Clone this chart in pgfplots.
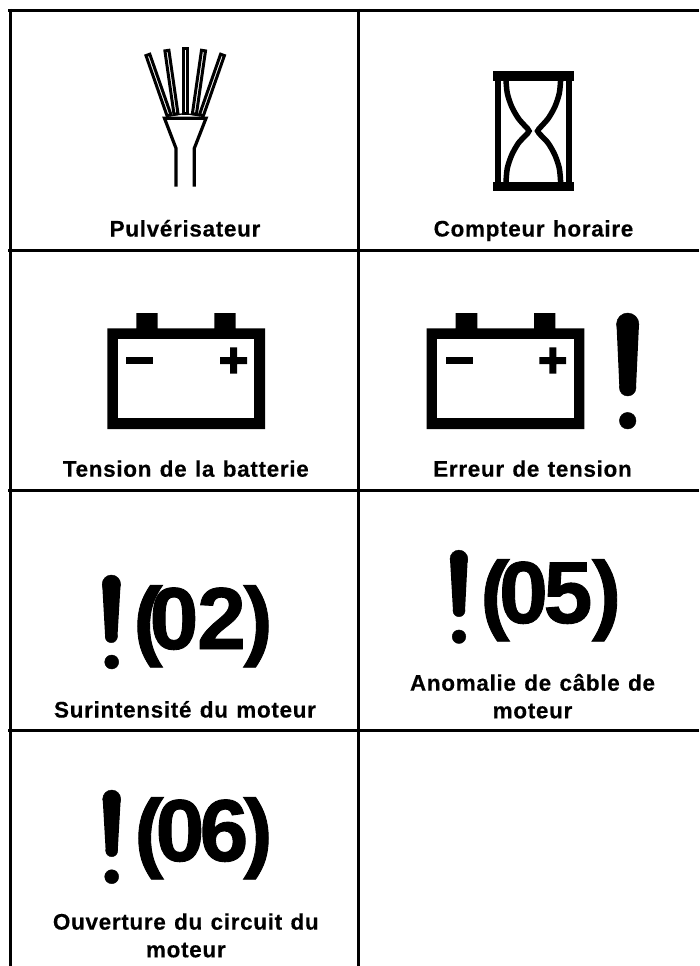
\documentclass[border=0pt]{standalone}
\usepackage{pgfplots}
\pgfplotsset{compat=1.18}
\usepackage{fontspec}
\setmainfont[LetterSpace=3,WordSpace=1.2,BoldFeatures={FakeBold=0.35}]{Liberation Sans}
\newfontfamily\bigf[UprightFont={* Bold},FakeBold=1.0]{Liberation Sans}
\newcommand{\lab}[3]{\node[anchor=base,inner sep=0pt,font=\fontsize{22.5}{24}\selectfont\bfseries] at (axis cs:#1,#2) {#3};}
\newcommand{\gl}[3]{\node[anchor=base,inner sep=0pt,font=\bigf\fontsize{88}{90}\selectfont] at (axis cs:#1,#2) {#3};}
\begin{document}
\begin{tikzpicture}
\begin{axis}[scale only axis,width=699pt,height=966pt,xmin=0,xmax=699,ymin=0,ymax=966,y dir=reverse,hide axis,clip=false,no markers]
\addplot[draw=none] coordinates {(0,0)(699,966)};
\path[use as bounding box] (axis cs:0,0) rectangle (axis cs:699,966);
% grid
\addplot[black,line width=3pt] coordinates {(8,10.5)(699,10.5)};
\addplot[black,line width=3pt] coordinates {(8,250.5)(699,250.5)};
\addplot[black,line width=3pt] coordinates {(8,490.5)(699,490.5)};
\addplot[black,line width=3pt] coordinates {(8,730.5)(699,730.5)};
\addplot[black,line width=3pt] coordinates {(10.5,9)(10.5,966)};
\addplot[black,line width=3pt] coordinates {(358.5,9)(358.5,966)};
% wires
\addplot[black,line width=3pt,line join=miter] coordinates {(146,55.6)(149.8,54.2)(170.9,114.6)(167.1,116)} --cycle;
\addplot[black,line width=3pt,line join=miter] coordinates {(164.9,50.9)(168.9,50.3)(178,113.7)(174,114.3)} --cycle;
\addplot[black,line width=3pt,line join=miter] coordinates {(183.2,49)(187.2,49)(187.2,113)(183.2,113)} --cycle;
\addplot[black,line width=3pt,line join=miter] coordinates {(205.5,50.9)(201.5,50.3)(192.4,113.7)(196.4,114.3)} --cycle;
\addplot[black,line width=3pt,line join=miter] coordinates {(224.4,55.6)(220.6,54.2)(199.5,114.6)(203.3,116)} --cycle;
\addplot[black,line width=1.3pt,smooth] coordinates {(170,116)(185,113.8)(200,116)};
\addplot[black,line width=3.2pt,line join=miter] coordinates {(176,186.7)(176,148.3)(164.5,118.3)(206,118.3)(194.3,148.3)(194.3,186.7)};
% hourglass
\addplot[black,fill=black,line width=0pt] coordinates {(493.3,72)(573.3,72)(573.3,80)(493.3,80)} --cycle;
\addplot[black,fill=black,line width=0pt] coordinates {(493.3,182)(573.3,182)(573.3,190)(493.3,190)} --cycle;
\addplot[black,fill=black,line width=0pt] coordinates {(495.7,78)(500.5,78)(500.5,184)(495.7,184)} --cycle;
\addplot[black,fill=black,line width=0pt] coordinates {(566.2,78)(571,78)(571,184)(566.2,184)} --cycle;
\addplot[black,line width=5.5pt,smooth,tension=0.5] coordinates {(506,80)(507.3,93.3)(511.7,106.7)(518.3,118.3)(525,126)(529,131)(525,136)(518.3,143.3)(511.7,155)(507.3,168.3)(506,182)};
\addplot[black,line width=5.5pt,smooth,tension=0.5] coordinates {(560.6,80)(559.3,93.3)(554.9,106.7)(548.3,118.3)(541.6,126)(537.6,131)(541.6,136)(548.3,143.3)(554.9,155)(559.3,168.3)(560.6,182)};
% battery left
\addplot[fill=black,draw=none] coordinates {(107.3,328.3)(136.3,328.3)(136.3,313)(157.7,313)(157.7,328.3)(214.3,328.3)(214.3,313)(235.7,313)(235.7,328.3)(265,328.3)(265,429)(107.3,429)} --cycle;
\addplot[fill=white,draw=none] coordinates {(118,339)(254.3,339)(254.3,418.3)(118,418.3)} --cycle;
\addplot[fill=black,draw=none] coordinates {(126,357)(153,357)(153,364)(126,364)} --cycle;
\addplot[fill=black,draw=none] coordinates {(220,357)(230,357)(230,347.3)(237,347.3)(237,357)(247,357)(247,364)(237,364)(237,373.7)(230,373.7)(230,364)(220,364)} --cycle;
% battery right
\addplot[fill=black,draw=none] coordinates {(426.7,328.3)(455.7,328.3)(455.7,313)(477.3,313)(477.3,328.3)(534,328.3)(534,313)(555.3,313)(555.3,328.3)(584.3,328.3)(584.3,429)(426.7,429)} --cycle;
\addplot[fill=white,draw=none] coordinates {(437.3,339)(573.7,339)(573.7,418.3)(437.3,418.3)} --cycle;
\addplot[fill=black,draw=none] coordinates {(446,357)(473,357)(473,364)(446,364)} --cycle;
\addplot[fill=black,draw=none] coordinates {(539.3,357)(549.3,357)(549.3,347.3)(556.3,347.3)(556.3,357)(566,357)(566,364)(556.3,364)(556.3,373.7)(549.3,373.7)(549.3,364)(539.3,364)} --cycle;
% exclamation big
\addplot[fill=black,draw=none] coordinates {(616.5,324.2)(639,324.2)(636,387.7)(619.4,387.7)} --cycle;
\addplot[only marks,mark=*,mark size=11.2pt,mark options={fill=black,draw=none}] coordinates {(627.7,324.2)};
\addplot[only marks,mark=*,mark size=8.3pt,mark options={fill=black,draw=none}] coordinates {(627.7,387.7)(627.7,420.7)};
% exclamation 02
\addplot[fill=black,draw=none] coordinates {(102.2,584.2)(120.6,584.2)(117.4,637.5)(105.2,637.5)} --cycle;
\addplot[only marks,mark=*,mark size=9.2pt,mark options={fill=black,draw=none}] coordinates {(111.4,584.2)};
\addplot[only marks,mark=*,mark size=6.1pt,mark options={fill=black,draw=none}] coordinates {(111.3,636.6)};
\addplot[only marks,mark=*,mark size=7pt,mark options={fill=black,draw=none}] coordinates {(111.7,662)};
% exclamation 05
\addplot[fill=black,draw=none] coordinates {(450,559)(467.7,559)(465,611)(453,611)} --cycle;
\addplot[only marks,mark=*,mark size=8.9pt,mark options={fill=black,draw=none}] coordinates {(458.9,559)};
\addplot[only marks,mark=*,mark size=6pt,mark options={fill=black,draw=none}] coordinates {(459,610.7)};
\addplot[only marks,mark=*,mark size=6.8pt,mark options={fill=black,draw=none}] coordinates {(459,636.7)};
% exclamation 06
\addplot[fill=black,draw=none] coordinates {(102.7,799)(120.7,799)(117.7,851)(105.7,851)} --cycle;
\addplot[only marks,mark=*,mark size=9pt,mark options={fill=black,draw=none}] coordinates {(111.7,799)};
\addplot[only marks,mark=*,mark size=6pt,mark options={fill=black,draw=none}] coordinates {(111.7,850.7)};
\addplot[only marks,mark=*,mark size=7pt,mark options={fill=black,draw=none}] coordinates {(111.7,876.7)};
% big glyphs
\gl{148}{649}{(}\gl{174}{649}{0}\gl{221.5}{649}{2}\gl{258}{649}{)}
\gl{495}{623}{(}\gl{523.5}{623}{0}\gl{568}{623}{5}\gl{606.5}{623}{)}
\gl{149}{861}{(}\gl{180}{861}{0}\gl{224}{861}{6}\gl{258}{861}{)}
% labels
\lab{185}{236.5}{Pulvérisateur}
\lab{533.5}{236.5}{Compteur horaire}
\lab{185.8}{476.7}{Tension de la batterie}
\lab{532.5}{476.7}{Erreur de tension}
\lab{185}{717.5}{Surintensité du moteur}
\lab{532.5}{690.7}{Anomalie de câble de}
\lab{532.5}{718.3}{moteur}
\lab{185.8}{929.6}{Ouverture du circuit du}
\lab{185.8}{957.3}{moteur}
\end{axis}
\end{tikzpicture}
\end{document}
